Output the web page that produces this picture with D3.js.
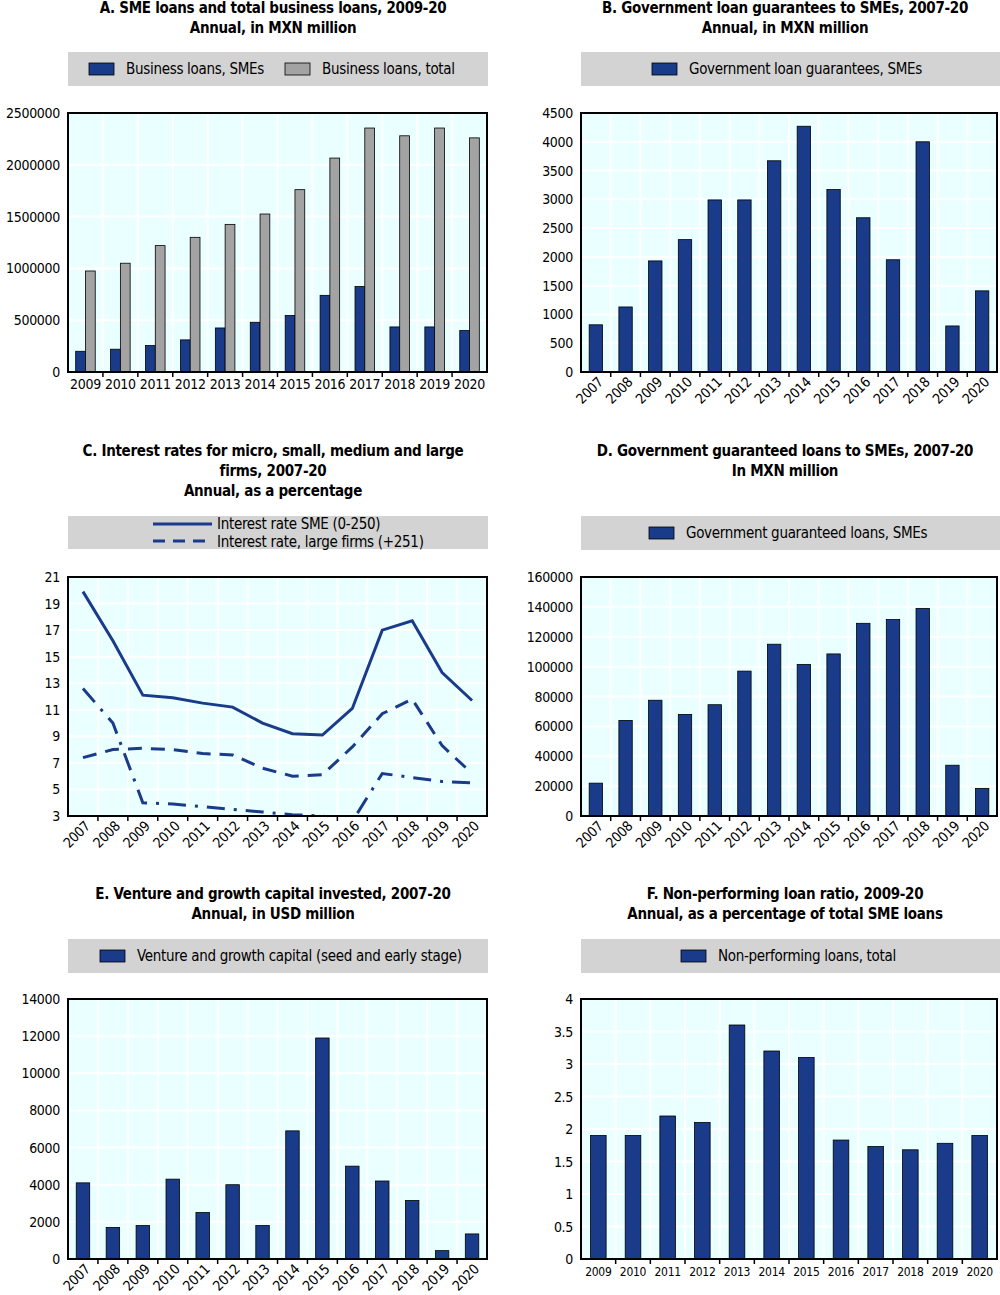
<!DOCTYPE html>
<html><head><meta charset="utf-8">
<script src="https://cdn.jsdelivr.net/npm/d3@7"></script>
<style>
body{margin:0;background:#fff;}
text{font-family:"Liberation Sans Narrow","Arial Narrow","DejaVu Sans Condensed",sans-serif;font-stretch:condensed;letter-spacing:-0.3px;}
</style></head>
<body><svg id="c" width="1000" height="1295"></svg>
<script>
// data
var yearsA = ["2009","2010","2011","2012","2013","2014","2015","2016","2017","2018","2019","2020"];
var years = ["2007","2008"].concat(yearsA);
var smeLoans = [200000,220000,255000,310000,425000,480000,545000,740000,825000,435000,435000,400000];
var totalLoans = [975000,1050000,1220000,1300000,1425000,1525000,1760000,2065000,2355000,2280000,2355000,2260000];
var guarantees = [820,1130,1930,2300,2990,2990,3670,4270,3170,2680,1950,4000,800,1410];
var rateSME = [19.9,16.2,12.1,11.9,11.5,11.2,10.0,9.2,9.1,11.1,17.0,17.7,13.8,11.7];
var rateLarge = [7.4,8.0,8.1,8.0,7.7,7.6,6.6,6.0,6.1,8.2,10.7,11.8,8.3,6.2];
var rateOther = [12.6,10.0,4.0,3.9,3.7,3.5,3.3,3.1,3.0,2.6,6.2,5.9,5.6,5.5];
var guaranteedLoans = [22000,64000,77500,68000,74500,97000,115000,101500,108500,129000,131500,139000,34000,18500];
var venture = [4100,1700,1800,4300,2500,4000,1800,6900,11900,5000,4200,3150,450,1350];
var npl = [1.9,1.9,2.2,2.1,3.6,3.2,3.1,1.83,1.73,1.68,1.78,1.9];

var BLUE = "#1a3a8a", GREY = "#a3a3a3", BG = "#eaffff";
var svg = d3.select("#c");

function title(cx, y, lines) {
  lines.forEach(function(t, i) {
    svg.append("text").attr("x", cx).attr("y", y + i * 20).attr("text-anchor", "middle")
      .attr("font-weight", "bold").attr("font-size", 15).attr("fill", "#000").text(t);
  });
}

function legendBox(x, y, w, h) {
  svg.append("rect").attr("x", x).attr("y", y).attr("width", w).attr("height", h).attr("fill", "#d3d3d3");
}
function legendSwatch(x, y, col, label) {
  svg.append("rect").attr("x", x).attr("y", y - 6).attr("width", 25).attr("height", 12)
    .attr("fill", col).attr("stroke", "#000").attr("stroke-width", 0.8);
  svg.append("text").attr("x", x + 37).attr("y", y + 5).attr("font-size", 15).text(label);
}

function frame(o) {
  var g = svg.append("g");
  var x = d3.scaleBand().domain(o.cats).range([o.x0, o.x1]);
  var y = d3.scaleLinear().domain([o.min, o.max]).range([o.y1, o.y0]);
  g.append("rect").attr("x", o.x0).attr("y", o.y0).attr("width", o.x1 - o.x0).attr("height", o.y1 - o.y0).attr("fill", BG);
  g.selectAll(".hg").data(o.ticks).enter().append("line")
    .attr("x1", o.x0).attr("x2", o.x1).attr("y1", function(d){return y(d);}).attr("y2", function(d){return y(d);})
    .attr("stroke", "#fff").attr("stroke-width", 2);
  g.selectAll(".vg").data(o.cats.slice(1)).enter().append("line")
    .attr("x1", function(d){return x(d);}).attr("x2", function(d){return x(d);})
    .attr("y1", o.y0).attr("y2", o.y1).attr("stroke", "#fff").attr("stroke-width", 2);
  o.g = g; o.x = x; o.y = y;
  return o;
}

function axes(o) {
  var g = o.g;
  o.ticks.forEach(function(t) {
    g.append("text").attr("x", o.x0 - 8).attr("y", o.y(t) + 5).attr("text-anchor", "end")
      .attr("font-size", 14).text(t);
  });
  o.cats.slice(1).forEach(function(c) {
    g.append("line").attr("x1", o.x(c)).attr("x2", o.x(c)).attr("y1", o.y1).attr("y2", o.y1 + 5)
      .attr("stroke", "#000").attr("stroke-width", 1.5);
  });
  o.cats.forEach(function(c) {
    var cx = o.x(c) + o.x.bandwidth() / 2;
    if (o.rotate) {
      g.append("text").attr("transform", "translate(" + (cx + 8) + "," + (o.y1 + 11) + ") rotate(-45)")
        .attr("text-anchor", "end").attr("font-size", 14).text(c);
    } else {
      g.append("text").attr("x", cx).attr("y", o.y1 + 17).attr("text-anchor", "middle").attr("font-size", o.xfs || 14).text(c);
    }
  });
  g.append("rect").attr("x", o.x0).attr("y", o.y0).attr("width", o.x1 - o.x0).attr("height", o.y1 - o.y0)
    .attr("fill", "none").attr("stroke", "#000").attr("stroke-width", 2);
}

function bars(o, vals, col, off, wFrac) {
  var bw = o.x.bandwidth() * wFrac;
  o.g.selectAll(null).data(vals).enter().append("rect")
    .attr("x", function(d, i){ return o.x(o.cats[i]) + o.x.bandwidth() / 2 + off * bw - bw / 2; })
    .attr("y", function(d){ return o.y(d); })
    .attr("width", bw).attr("height", function(d){ return o.y1 - o.y(d); })
    .attr("fill", col).attr("stroke", "#000").attr("stroke-width", 0.8);
}

// Panel A
title(273, 13, ["A. SME loans and total business loans, 2009-20", "Annual, in MXN million"]);
legendBox(68, 52, 420, 34);
legendSwatch(89, 69, BLUE, "Business loans, SMEs");
legendSwatch(285, 69, GREY, "Business loans, total");
var A = frame({cats: yearsA, x0: 68, x1: 487, y0: 113, y1: 372, min: 0, max: 2500000,
  ticks: [0,500000,1000000,1500000,2000000,2500000]});
bars(A, smeLoans, BLUE, -0.5, 0.28);
bars(A, totalLoans, GREY, 0.5, 0.28);
axes(A);

// Panel B
title(785, 13, ["B. Government loan guarantees to SMEs, 2007-20", "Annual, in MXN million"]);
legendBox(581, 52, 419, 34);
legendSwatch(652, 69, BLUE, "Government loan guarantees, SMEs");
var B = frame({cats: years, x0: 581, x1: 997, y0: 113, y1: 372, min: 0, max: 4500, rotate: true,
  ticks: [0,500,1000,1500,2000,2500,3000,3500,4000,4500]});
bars(B, guarantees, BLUE, 0, 0.45);
axes(B);

// Panel C
title(273, 456, ["C. Interest rates for micro, small, medium and large", "firms, 2007-20", "Annual, as a percentage"]);
legendBox(68, 516, 420, 33);
var C = frame({cats: years, x0: 68, x1: 487, y0: 577, y1: 816, min: 3, max: 21, rotate: true,
  ticks: [3,5,7,9,11,13,15,17,19,21]});
svg.append("clipPath").attr("id", "clipC").append("rect").attr("x", C.x0).attr("y", C.y0)
  .attr("width", C.x1 - C.x0).attr("height", C.y1 - C.y0);
var line = d3.line().x(function(d, i){ return C.x(years[i]) + C.x.bandwidth() / 2; }).y(function(d){ return C.y(d); });
[[rateSME, null], [rateLarge, "14,9"], [rateOther, "18,9,3,9"]].forEach(function(s) {
  C.g.append("path").attr("d", line(s[0])).attr("fill", "none").attr("stroke", BLUE).attr("stroke-width", 3)
    .attr("clip-path", "url(#clipC)").attr("stroke-dasharray", s[1]);
});
axes(C);
svg.append("line").attr("x1", 153).attr("x2", 212).attr("y1", 524).attr("y2", 524).attr("stroke", BLUE).attr("stroke-width", 3);
svg.append("line").attr("x1", 153).attr("x2", 212).attr("y1", 541).attr("y2", 541).attr("stroke", BLUE).attr("stroke-width", 3).attr("stroke-dasharray", "12,8");
svg.append("text").attr("x", 217).attr("y", 529).attr("font-size", 15).text("Interest rate SME (0-250)");
svg.append("text").attr("x", 217).attr("y", 547).attr("font-size", 15).text("Interest rate, large firms (+251)");

// Panel D
title(785, 456, ["D. Government guaranteed loans to SMEs, 2007-20", "In MXN million"]);
legendBox(581, 516, 419, 34);
legendSwatch(649, 533, BLUE, "Government guaranteed loans, SMEs");
var D = frame({cats: years, x0: 581, x1: 997, y0: 577, y1: 816, min: 0, max: 160000, rotate: true,
  ticks: [0,20000,40000,60000,80000,100000,120000,140000,160000]});
bars(D, guaranteedLoans, BLUE, 0, 0.45);
axes(D);

// Panel E
title(273, 899, ["E. Venture and growth capital invested, 2007-20", "Annual, in USD million"]);
legendBox(68, 939, 420, 34);
legendSwatch(100, 956, BLUE, "Venture and growth capital (seed and early stage)");
var E = frame({cats: years, x0: 68, x1: 487, y0: 999, y1: 1259, min: 0, max: 14000, rotate: true,
  ticks: [0,2000,4000,6000,8000,10000,12000,14000]});
bars(E, venture, BLUE, 0, 0.45);
axes(E);

// Panel F
title(785, 899, ["F. Non-performing loan ratio, 2009-20", "Annual, as a percentage of total SME loans"]);
legendBox(581, 939, 419, 34);
legendSwatch(681, 956, BLUE, "Non-performing loans, total");
var F = frame({cats: yearsA, x0: 581, x1: 997, y0: 999, y1: 1259, min: 0, max: 4, xfs: 12,
  ticks: [0,0.5,1,1.5,2,2.5,3,3.5,4]});
bars(F, npl, BLUE, 0, 0.45);
axes(F);
</script></body></html>
